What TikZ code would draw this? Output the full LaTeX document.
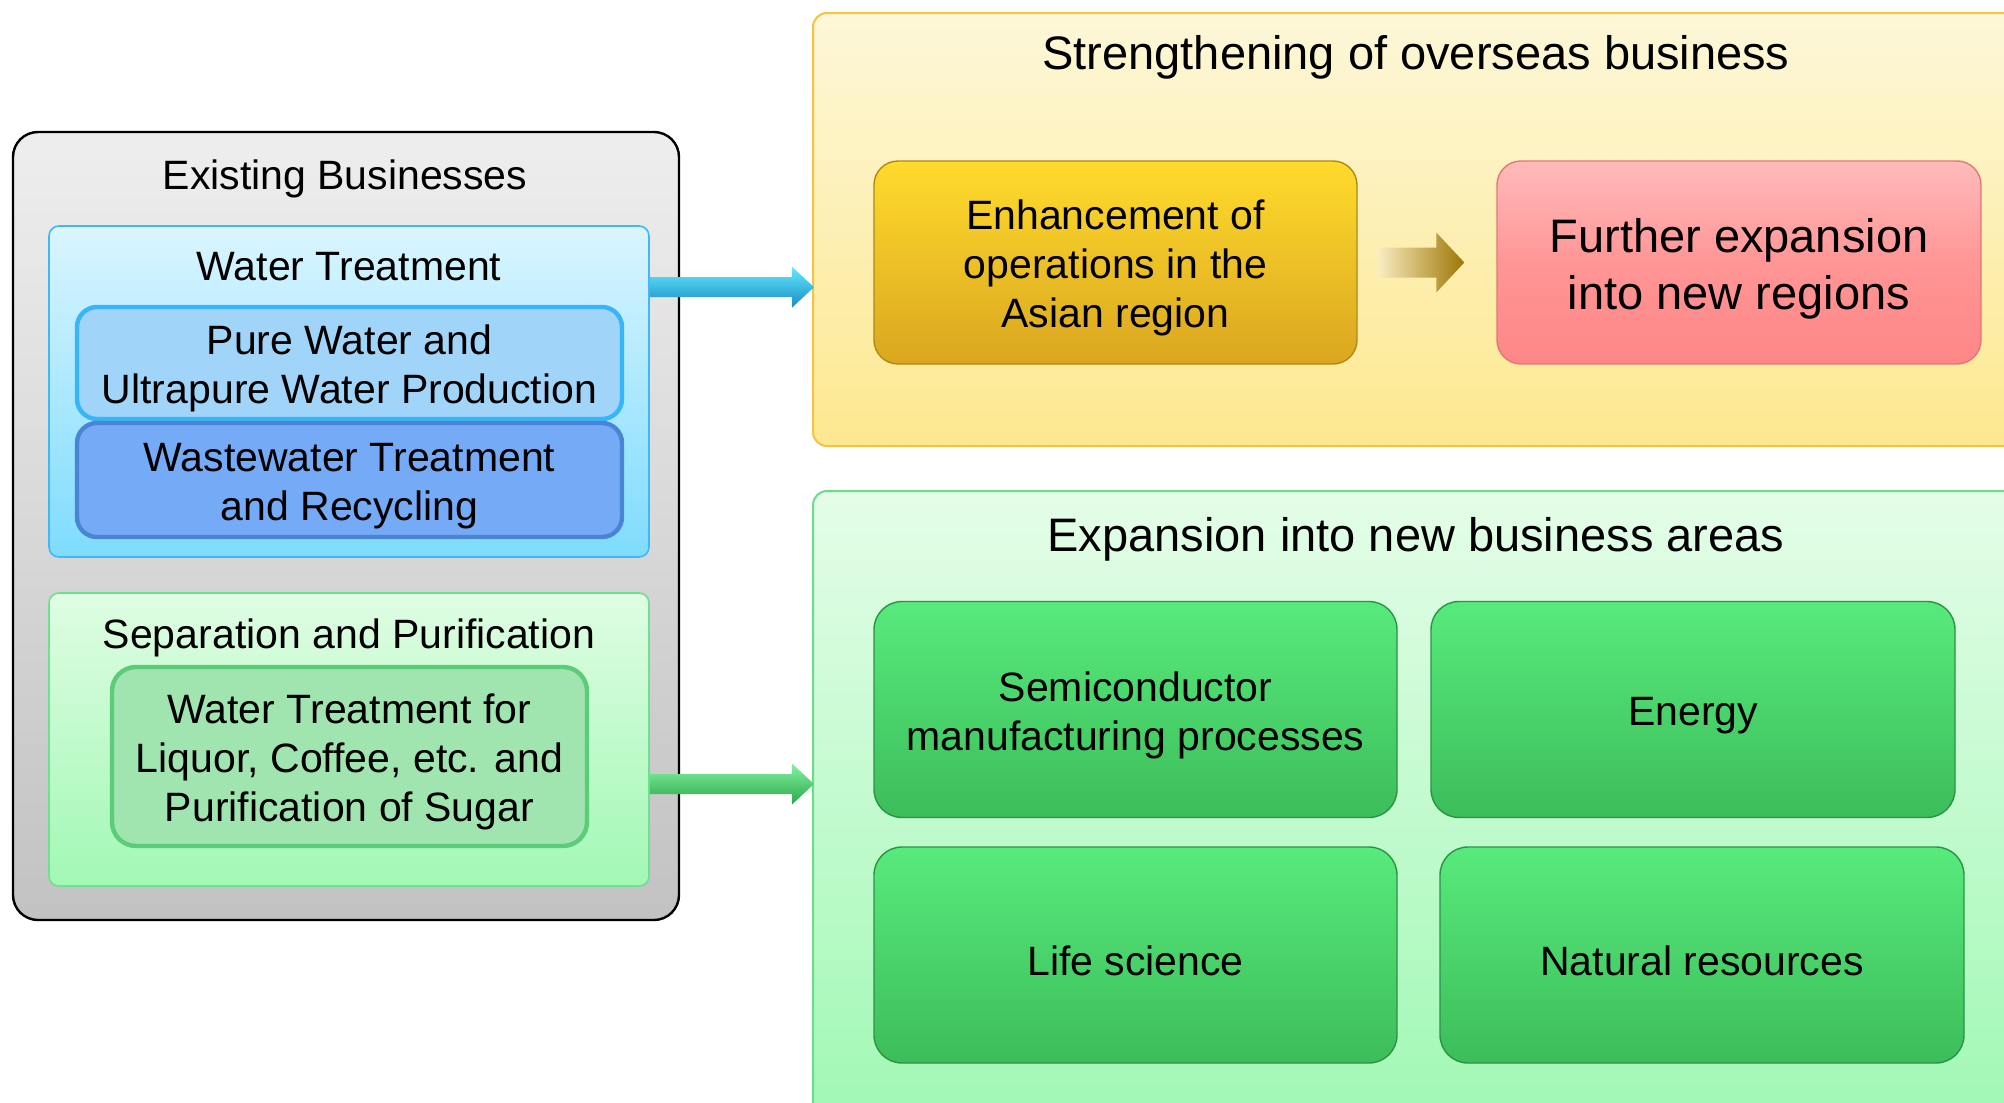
\documentclass[tikz,border=0pt]{standalone}
\usepackage{fontspec}
\setmainfont{Liberation Sans}
\usetikzlibrary{positioning}

\newcommand{\boxfont}{\fontsize{20.5}{24.6}\selectfont}
\newcommand{\bigboxfont}{\fontsize{23.5}{28.2}\selectfont}
% first-line strut, sets box text a little lower
\newcommand{\tallstrut}{\rule{0pt}{1em}}

% panel colours
\definecolor{greyTop}{HTML}{EEEEEE}
\definecolor{greyBot}{HTML}{C2C2C2}
\definecolor{wtTop}{HTML}{DAF5FF}
\definecolor{wtBot}{HTML}{7EDCFD}
\definecolor{wtLine}{HTML}{40B8F8}
\definecolor{pureFill}{HTML}{A0D4F8}
\definecolor{pureLine}{HTML}{38B4F8}
\definecolor{wasteFill}{HTML}{74AAF6}
\definecolor{wasteLine}{HTML}{4A84D4}
\definecolor{sepTop}{HTML}{DFFDE3}
\definecolor{sepBot}{HTML}{A2F8B5}
\definecolor{sepLine}{HTML}{70E090}
\definecolor{liqFill}{HTML}{A0E4B0}
\definecolor{liqLine}{HTML}{5CCC78}
\definecolor{ovTop}{HTML}{FDF7D8}
\definecolor{ovBot}{HTML}{FDE890}
\definecolor{ovLine}{HTML}{F5C242}
\definecolor{goldTop}{HTML}{FFDB2C}
\definecolor{goldBot}{HTML}{DAA620}
\definecolor{goldLine}{HTML}{B08818}
\definecolor{pinkTop}{HTML}{FFBABA}
\definecolor{pinkBot}{HTML}{FF8686}
\definecolor{pinkLine}{HTML}{E07878}
\definecolor{nbTop}{HTML}{E4FDE8}
\definecolor{nbBot}{HTML}{A0F8B4}
\definecolor{nbLine}{HTML}{6CDC8A}
\definecolor{areaTop}{HTML}{58EA7C}
\definecolor{areaBot}{HTML}{3CBD5A}
\definecolor{areaLine}{HTML}{2A9444}
% arrow colours
\definecolor{blueA}{HTML}{62EAFF}
\definecolor{blueB}{HTML}{30C4F0}
\definecolor{blueC}{HTML}{1A8CC4}
\definecolor{greenA}{HTML}{86F2A2}
\definecolor{greenB}{HTML}{52DC74}
\definecolor{greenC}{HTML}{2AA84A}
\definecolor{goldA}{HTML}{FAEDC0}
\definecolor{goldB}{HTML}{D8A418}
\definecolor{goldC}{HTML}{9C7606}

\begin{document}
\begin{tikzpicture}[x=0.5pt, y=-0.5pt,
    every node/.style={inner sep=0pt, align=center, font=\boxfont},
    existing/.style={draw=black, line width=1.2pt, rounded corners=12.5pt,
      top color=greyTop, bottom color=greyBot},
    group/.style={line width=0.8pt, rounded corners=5pt,
      minimum width=300pt},
    inner/.style={line width=2.2pt, rounded corners=10pt},
    bigpanel/.style={line width=1pt, rounded corners=7pt,
      minimum width=608.5pt},
    glossy/.style={line width=0.7pt, rounded corners=12pt,
      minimum height=101.5pt},
    area/.style={draw=areaLine, line width=0.7pt, rounded corners=14pt,
      top color=areaTop, bottom color=areaBot, minimum height=108pt}]

  \useasboundingbox (0,0) rectangle (2004,1103);

  % left side: existing businesses
  \node[existing, minimum width=333pt, minimum height=394pt] (existing) at (346,526) {};
  \node (existingtitle) at (345,179) {Existing Businesses};

  \node[group, draw=wtLine, top color=wtTop, bottom color=wtBot,
    minimum height=165.5pt] (wt) at (349,391.5) {};
  \node (wttitle) at (349,267) {Water Treatment};
  \node[inner, draw=pureLine, fill=pureFill, minimum width=272.5pt,
    minimum height=56pt] (pure) at (349.5,363)
    {\tallstrut Pure Water and\\Ultrapure Water Production};
  \node[inner, draw=wasteLine, fill=wasteFill, minimum width=272.5pt,
    minimum height=57pt] (waste) at (349.5,480)
    {\tallstrut Wastewater Treatment\\and Recycling};

  \node[group, draw=sepLine, top color=sepTop, bottom color=sepBot,
    minimum height=146.5pt] (sep) at (349,739.5) {};
  \node (septitle) at (349,638) {Separation and Purification};
  \node[inner, draw=liqLine, fill=liqFill, rounded corners=12pt,
    minimum width=237.5pt, minimum height=89.5pt] (liquor) at (349.5,756.5)
    {\tallstrut Water Treatment for\\Liquor, Coffee, etc. and\\Purification of Sugar};

  % right side: overseas business
  \node[bigpanel, draw=ovLine, top color=ovTop, bottom color=ovBot,
    minimum height=216.5pt] (overseas) at (1421.5,229.5) {};
  \node[font=\bigboxfont] (overseastitle) at (1416,57)
    {Strengthening of overseas business};
  \node[glossy, draw=goldLine, top color=goldTop, bottom color=goldBot,
    minimum width=241.5pt] (asia) at (1115.5,262.5)
    {\tallstrut Enhancement of\\operations in the\\Asian region};
  \node[glossy, draw=pinkLine, top color=pinkTop, bottom color=pinkBot,
    middle color=pinkBot!70!pinkTop, minimum width=242pt,
    font=\bigboxfont] (further) at (1739,262.5)
    {\tallstrut Further expansion\\into new regions};

  % right side: new business areas
  \node[bigpanel, draw=nbLine, top color=nbTop, bottom color=nbBot,
    minimum height=317pt] (newbiz) at (1421.5,808) {};
  \node[font=\bigboxfont] (newbiztitle) at (1416,539)
    {Expansion into new business areas};
  \node[area, minimum width=261.5pt] (semi) at (1135.5,709.5)
    {\tallstrut Semiconductor\\manufacturing processes};
  \node[area, minimum width=262pt] (energy) at (1693,709.5) {\tallstrut Energy};
  \node[area, minimum width=261.5pt] (life) at (1135.5,955) {\tallstrut Life science};
  \node[area, minimum width=262pt] (natural) at (1702,955) {\tallstrut Natural resources};

  % block arrows
  \coordinate (bluestart) at ([yshift=-31pt]wt.north east);
  \coordinate (blueend) at (bluestart -| overseas.west);
  \shade[top color=blueA, middle color=blueB, bottom color=blueC]
    ([yshift=5pt]bluestart) -- ([xshift=-10pt,yshift=5pt]blueend)
    -- ([xshift=-10pt,yshift=10.25pt]blueend) -- ([xshift=1pt]blueend)
    -- ([xshift=-10pt,yshift=-10.25pt]blueend) -- ([xshift=-10pt,yshift=-5pt]blueend)
    -- ([yshift=-5pt]bluestart) -- cycle;

  \coordinate (greenstart) at ([yshift=-22.25pt]sep.east);
  \coordinate (greenend) at (greenstart -| newbiz.west);
  \shade[top color=greenA, middle color=greenB, bottom color=greenC]
    ([yshift=5pt]greenstart) -- ([xshift=-10pt,yshift=5pt]greenend)
    -- ([xshift=-10pt,yshift=10.25pt]greenend) -- ([xshift=1pt]greenend)
    -- ([xshift=-10pt,yshift=-10.25pt]greenend) -- ([xshift=-10pt,yshift=-5pt]greenend)
    -- ([yshift=-5pt]greenstart) -- cycle;

  \shade[left color=goldA, middle color=goldB, right color=goldC]
    ([xshift=10pt,yshift=7.5pt]asia.east) -- ([xshift=-30pt,yshift=7.5pt]further.west)
    -- ([xshift=-30pt,yshift=15pt]further.west) -- ([xshift=-16pt]further.west)
    -- ([xshift=-30pt,yshift=-15pt]further.west) -- ([xshift=-30pt,yshift=-7.5pt]further.west)
    -- ([xshift=10pt,yshift=-7.5pt]asia.east) -- cycle;

\end{tikzpicture}
\end{document}
